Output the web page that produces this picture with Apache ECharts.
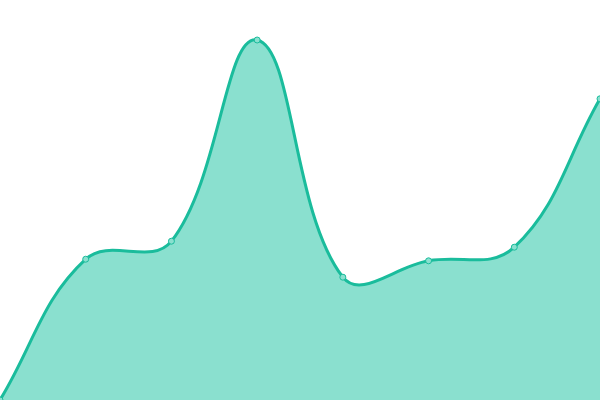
<!DOCTYPE html>
<html>
<head>
<meta charset="utf-8">
<script src="https://cdn.jsdelivr.net/npm/echarts@6/dist/echarts.min.js"></script>
<style>
html, body { margin: 0; padding: 0; background: #fff; }
#main { width: 600px; height: 400px; }
</style>
</head>
<body>
<div id="main"></div>
<script>
var categories = ["A", "B", "C", "D", "E", "F", "G", "H"];
var values = [0, 35.2, 39.7, 90, 30.7, 34.8, 38.2, 75.3];

(function () {
    var myChart = echarts.init(document.getElementById("main"));
    var tension = 0.4;

    // cardinal-style spline through the points (control points from neighbours)
    function buildPaths(api) {
        var pts = values.map(function (v, i) { return api.coord([i, v]); });
        var base0 = api.coord([0, 0]);
        var baseN = api.coord([values.length - 1, 0]);
        var top = api.coord([0, 100])[1];
        var bottom = base0[1];
        var cps = pts.map(function (p, i) {
            var prev = pts[i - 1] || p;
            var next = pts[i + 1] || p;
            var d01 = Math.hypot(p[0] - prev[0], p[1] - prev[1]);
            var d12 = Math.hypot(next[0] - p[0], next[1] - p[1]);
            var s01 = d01 / (d01 + d12) || 0;
            var s12 = d12 / (d01 + d12) || 0;
            var fa = tension * s01, fb = tension * s12;
            var clampY = function (y) { return Math.max(top, Math.min(bottom, y)); };
            return {
                prev: [p[0] - fa * (next[0] - prev[0]), clampY(p[1] - fa * (next[1] - prev[1]))],
                next: [p[0] + fb * (next[0] - prev[0]), clampY(p[1] + fb * (next[1] - prev[1]))]
            };
        });
        var d = "M" + pts[0][0] + " " + pts[0][1];
        for (var i = 1; i < pts.length; i++) {
            var c1 = cps[i - 1].next, c2 = cps[i].prev;
            d += " C" + c1[0] + " " + c1[1] + " " + c2[0] + " " + c2[1] + " " + pts[i][0] + " " + pts[i][1];
        }
        var area = d + " L" + baseN[0] + " " + baseN[1] + " L" + base0[0] + " " + base0[1] + " Z";
        return { line: d, area: area };
    }

    var option = {
        animation: false,
        grid: { top: 0, bottom: 0, left: 0, right: 0 },
        xAxis: {
            type: "category",
            data: categories,
            boundaryGap: false,
            show: false
        },
        yAxis: {
            type: "value",
            min: 0,
            max: 100,
            show: false
        },
        series: [{
            type: "custom",
            data: values.map(function (v, i) { return [i, v]; }),
            renderItem: function (params, api) {
                if (params.dataIndex !== 0) return null;
                var p = buildPaths(api);
                return {
                    type: "group",
                    children: [{
                        type: "path",
                        shape: { pathData: p.area },
                        style: { fill: "#8ae0cf", stroke: null }
                    }, {
                        type: "path",
                        shape: { pathData: p.line },
                        style: { fill: null, stroke: "#1abc9c", lineWidth: 3 }
                    }]
                };
            },
            z: 1
        }, {
            type: "scatter",
            data: values.map(function (v, i) { return [i, v]; }),
            symbol: "circle",
            symbolSize: 6,
            itemStyle: { color: "#8ae0cf", borderColor: "#1abc9c", borderWidth: 1, opacity: 1 },
            z: 3
        }]
    };
    myChart.setOption(option);
})();
</script>
</body>
</html>
